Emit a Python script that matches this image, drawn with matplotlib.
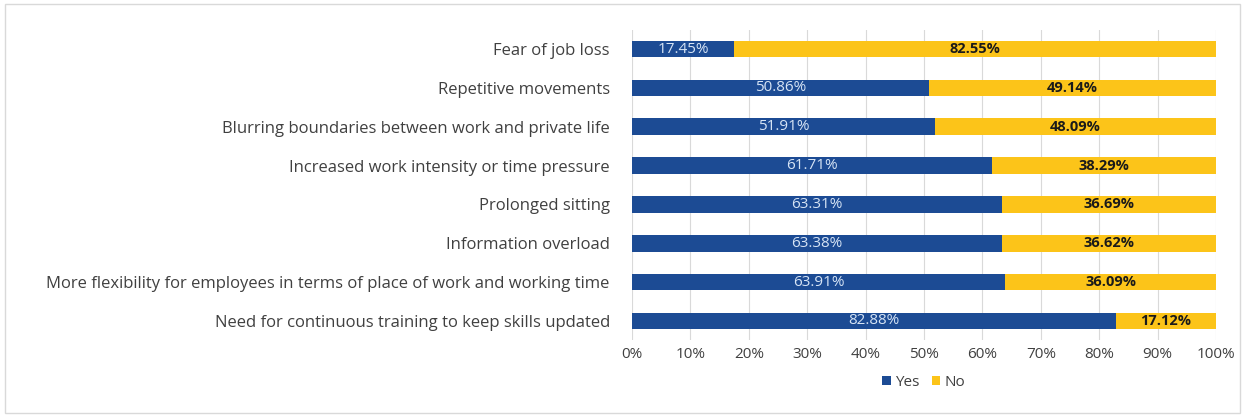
import matplotlib.pyplot as plt
from matplotlib.patches import Rectangle

categories = [
    "Fear of job loss",
    "Repetitive movements",
    "Blurring boundaries between work and private life",
    "Increased work intensity or time pressure",
    "Prolonged sitting",
    "Information overload",
    "More flexibility for employees in terms of place of work and working time",
    "Need for continuous training to keep skills updated",
]
yes_vals = [17.45, 50.86, 51.91, 61.71, 63.31, 63.38, 63.91, 82.88]
no_vals = [82.55, 49.14, 48.09, 38.29, 36.69, 36.62, 36.09, 17.12]
xticks = [0, 10, 20, 30, 40, 50, 60, 70, 80, 90, 100]

BLUE = "#1c4b94"
YELLOW = "#fcc419"

plt.rcParams['font.family'] = ['Open Sans', 'DejaVu Sans']

fig = plt.figure(figsize=(12.47, 4.19), dpi=100)
ax = fig.add_axes([0.5068, 0.1876, 0.4683, 0.7418])

y = list(range(len(categories)))
ax.barh(y, yes_vals, height=0.43, color=BLUE, label="Yes", zorder=3)
ax.barh(y, no_vals, left=yes_vals, height=0.43, color=YELLOW, label="No", zorder=3)

for i in y:
    ax.text(yes_vals[i] / 2, i, f"{yes_vals[i]:.2f}%", ha="center", va="center",
            color="#d6e4f5", fontsize=11, zorder=4)
    ax.text(yes_vals[i] + no_vals[i] / 2, i, f"{no_vals[i]:.2f}%", ha="center",
            va="center", color="#1a1a1a", fontsize=10.5, fontweight="bold", zorder=4)

ax.set_xlim(0, 100)
ax.set_ylim(len(categories) - 0.5, -0.5)
ax.set_xticks(xticks)
ax.set_xticklabels([f"{t}%" for t in xticks])
ax.set_yticks(y)
ax.set_yticklabels(categories)
ax.tick_params(axis="x", length=0, labelsize=11, labelcolor="#404040", pad=5)
ax.tick_params(axis="y", length=0, labelsize=12, labelcolor="#404040", pad=16)
ax.grid(axis="x", color="#d9d9d9", linewidth=0.8, zorder=0)
for s in ax.spines.values():
    s.set_visible(False)

ax.legend(loc="upper center", bbox_to_anchor=(0.5, -0.068), ncol=2, frameon=False,
          fontsize=11, handlelength=0.55, handleheight=0.55, handletextpad=0.3,
          columnspacing=0.8, labelcolor="#404040")

# thin frame around the whole chart
fig.patches.append(Rectangle((0.004, 0.015), 0.99, 0.975, transform=fig.transFigure,
                             fill=False, edgecolor="#d9d9d9", linewidth=1))

fig.savefig("out.png", dpi=100)
